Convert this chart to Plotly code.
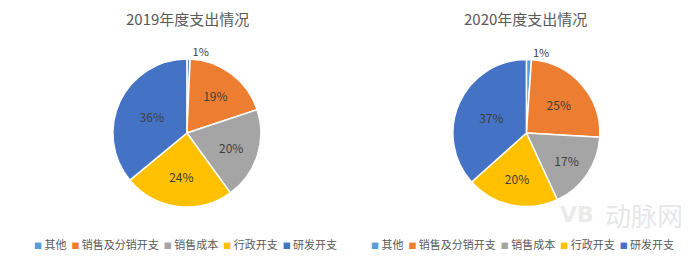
import plotly.graph_objects as go

categories = ["其他", "销售及分销开支", "销售成本", "行政开支", "研发开支"]
colors = ["#5B9BD5", "#ED7D31", "#A5A5A5", "#FFC000", "#4472C4"]
values_2019 = [0.7, 19.2, 20.1, 24.0, 36.0]
labels_2019 = ["1%", "19%", "20%", "24%", "36%"]
values_2020 = [1.1, 24.8, 17.2, 20.3, 36.6]
labels_2020 = ["1%", "25%", "17%", "20%", "37%"]
titles = ["2019年度支出情况", "2020年度支出情况"]

FONT = "Noto Sans CJK SC"
GRAY = "#595959"

fig = go.Figure()
domains = [dict(x=[0.161, 0.373], y=[0.204, 0.773]), dict(x=[0.647, 0.857], y=[0.204, 0.773])]
for vals, texts, dom in [(values_2019, labels_2019, domains[0]), (values_2020, labels_2020, domains[1])]:
    fig.add_trace(go.Pie(
        labels=categories, values=vals, text=texts,
        textinfo="text", sort=False, direction="clockwise", rotation=0,
        marker=dict(colors=colors, line=dict(color="white", width=1.5)),
        textposition=["outside", "inside", "inside", "inside", "inside"],
        insidetextorientation="horizontal",
        textfont=dict(family=FONT, size=12, color="#404040"),
        outsidetextfont=dict(family=FONT, size=11, color="#404040"),
        domain=dom, showlegend=False, hoverinfo="label+percent",
    ))

annotations = []
for title, xc in zip(titles, [0.268, 0.751]):
    annotations.append(dict(text=title, x=xc, y=1 - 19 / 260, xref="paper", yref="paper",
                            xanchor="center", yanchor="middle", showarrow=False,
                            font=dict(family=FONT, size=15, color=GRAY)))

legend_text = "&nbsp; ".join(
    f'<span style="color:{c};font-size:8px">■</span> {lab}' for lab, c in zip(categories, colors)
)
for xl in [32 / 700, 369 / 700]:
    annotations.append(dict(text=legend_text, x=xl, y=1 - 244 / 260, xref="paper", yref="paper",
                            xanchor="left", yanchor="middle", showarrow=False,
                            font=dict(family=FONT, size=11, color=GRAY)))

annotations.append(dict(text="<b>VB</b>", x=577 / 700, y=1 - 214 / 260, xref="paper", yref="paper",
                        xanchor="center", yanchor="middle", showarrow=False,
                        font=dict(family="DejaVu Sans", size=22, color="rgba(200,200,200,0.4)")))
annotations.append(dict(text="动脉网", x=644 / 700, y=1 - 214 / 260, xref="paper", yref="paper",
                        xanchor="center", yanchor="middle", showarrow=False,
                        font=dict(family=FONT, size=26, color="rgba(200,200,200,0.45)")))

fig.update_layout(
    width=700, height=260, margin=dict(l=0, r=0, t=0, b=0),
    paper_bgcolor="white", plot_bgcolor="white",
    annotations=annotations,
)
fig.write_html("out.html")
